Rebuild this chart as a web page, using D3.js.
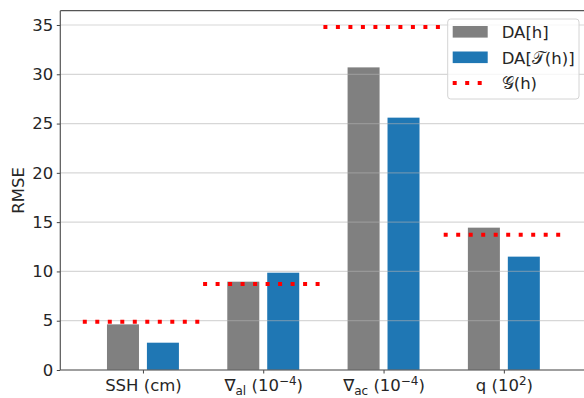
<!DOCTYPE html>
<html>
<head>
<meta charset="utf-8">
<script src="https://cdn.jsdelivr.net/npm/d3@7"></script>
<style>
  body { margin: 0; background: #fff; }
  text { font-family: "DejaVu Sans", sans-serif; fill: #262626; }
</style>
</head>
<body>
<div id="chart"></div>
<script>
// values
const categories = ['SSH', 'grad_al', 'grad_ac', 'q']
const tickLabels = [
  [{t: 'SSH (cm)'}],
  [{t: '\u2207'}, {t: 'al', sub: true}, {t: ' (10'}, {t: '\u22124', sup: true}, {t: ')'}],
  [{t: '\u2207'}, {t: 'ac', sub: true}, {t: ' (10'}, {t: '\u22124', sup: true}, {t: ')'}],
  [{t: 'q (10'}, {t: '2', sup: true}, {t: ')'}]
]
const daH = [4.63, 8.96, 30.7, 14.44]
const daTH = [2.77, 9.87, 25.6, 11.5]
const gH = [4.9, 8.72, 34.8, 13.73]
const yTicks = [0, 5, 10, 15, 20, 25, 30, 35]
const legendNames = ['DA[h]', 'DA[\uD835\uDCAF(h)]', '\uD835\uDCA2(h)']

const W = 584, H = 398
var margin = {top: 10.7, left: 60.3, bottom: 370, right: 586.5}

var x = d3.scaleLinear().domain([-0.687, 3.687]).range([margin.left, margin.right])
var y = d3.scaleLinear().domain([0, 36.45]).range([margin.bottom, margin.top])

var barW = 0.266, barOff = 0.166
var grey = '#808080', blue = '#1f77b4', red = '#ff0000'
var fs = 16.5

var svg = d3.select('#chart').append('svg')
  .attr('width', W)
  .attr('height', H)

// bars
svg.append('g').selectAll('rect')
  .data(daH)
  .join('rect')
  .attr('x', (d, i) => x(i - barOff - barW / 2))
  .attr('width', (d, i) => x(i + barW) - x(i))
  .attr('y', d => y(d))
  .attr('height', d => y(0) - y(d))
  .attr('fill', grey)

svg.append('g').selectAll('rect')
  .data(daTH)
  .join('rect')
  .attr('x', (d, i) => x(i + barOff - barW / 2))
  .attr('width', (d, i) => x(i + barW) - x(i))
  .attr('y', d => y(d))
  .attr('height', d => y(0) - y(d))
  .attr('fill', blue)

// grid on top of bars
svg.append('g').selectAll('line')
  .data(yTicks)
  .join('line')
  .attr('x1', margin.left).attr('x2', margin.right)
  .attr('y1', d => y(d)).attr('y2', d => y(d))
  .attr('stroke', '#b0b0b0')
  .attr('stroke-opacity', 0.5)
  .attr('stroke-width', 1.2)

// G(h) dotted levels
svg.append('g').selectAll('line')
  .data(gH)
  .join('line')
  .attr('x1', (d, i) => x(i - 0.5)).attr('x2', (d, i) => x(i + 0.5))
  .attr('y1', d => y(d)).attr('y2', d => y(d))
  .attr('stroke', red)
  .attr('stroke-width', 4)
  .attr('stroke-dasharray', '4,8.5')

// axes
var yAxis = d3.axisLeft(y).tickValues(yTicks).tickSize(3.5).tickPadding(3.5)
var gy = svg.append('g')
  .attr('transform', 'translate(' + margin.left + ',0)')
  .call(yAxis)
gy.select('.domain').remove()
gy.selectAll('.tick line').attr('stroke', '#444')
gy.selectAll('.tick text').attr('font-size', fs).attr('font-family', 'DejaVu Sans').attr('fill', '#262626')

var xAxis = d3.axisBottom(x).tickValues(d3.range(categories.length)).tickSize(3.5).tickPadding(5).tickFormat('')
var gx = svg.append('g')
  .attr('transform', 'translate(0,' + margin.bottom + ')')
  .call(xAxis)
gx.select('.domain').remove()
gx.selectAll('.tick line').attr('stroke', '#444')
gx.selectAll('.tick text')
  .attr('font-size', fs)
  .attr('font-family', 'DejaVu Sans')
  .attr('fill', '#262626')
  .attr('dy', null)
  .attr('y', 20.5)
  .each(function (d) {
    var t = d3.select(this)
    var parts = tickLabels[d]
    var shift = 0
    parts.forEach(function (p) {
      var s = t.append('tspan').text(p.t)
      var target = p.sub ? 4 : (p.sup ? -6 : 0)
      if (p.sub || p.sup) s.attr('font-size', 12)
      if (target !== shift) { s.attr('dy', target - shift); shift = target }
    })
  })

// spines
svg.append('line').attr('x1', margin.left).attr('x2', margin.left)
  .attr('y1', margin.top).attr('y2', margin.bottom)
  .attr('stroke', '#555').attr('stroke-width', 1.2)
svg.append('line').attr('x1', margin.left).attr('x2', margin.right)
  .attr('y1', margin.top).attr('y2', margin.top)
  .attr('stroke', '#555').attr('stroke-width', 1.2)
svg.append('line').attr('x1', margin.left).attr('x2', margin.right)
  .attr('y1', margin.bottom).attr('y2', margin.bottom)
  .attr('stroke', '#555').attr('stroke-width', 1.2)

svg.append('text')
  .attr('transform', 'translate(24,' + (margin.top + margin.bottom) / 2 + ') rotate(-90)')
  .attr('text-anchor', 'middle')
  .attr('font-size', fs)
  .text('RMSE')

// legend
var lg = svg.append('g').attr('transform', 'translate(447.7,19)')
lg.append('rect')
  .attr('width', 131.3).attr('height', 80).attr('rx', 3)
  .attr('fill', '#fff').attr('fill-opacity', 0.8)
  .attr('stroke', '#d4d4d4')
var rows = lg.selectAll('g.row')
  .data(legendNames)
  .join('g')
  .attr('class', 'row')
  .attr('transform', (d, i) => 'translate(5,' + (13 + i * 25.5) + ')')
rows.filter((d, i) => i < 2).append('rect')
  .attr('x', 0).attr('y', -6).attr('width', 35).attr('height', 11.6)
  .attr('fill', (d, i) => i === 0 ? grey : blue)
rows.filter((d, i) => i === 2).append('line')
  .attr('x1', 0).attr('x2', 35).attr('y1', 0).attr('y2', 0)
  .attr('stroke', red).attr('stroke-width', 4).attr('stroke-dasharray', '4,8.5')
rows.append('text')
  .attr('x', 49).attr('y', 6)
  .attr('font-size', fs)
  .attr('font-family', '"DejaVu Sans", "DejaVu Math TeX Gyre", "Noto Sans", sans-serif')
  .text(d => d)
</script>
</body>
</html>
